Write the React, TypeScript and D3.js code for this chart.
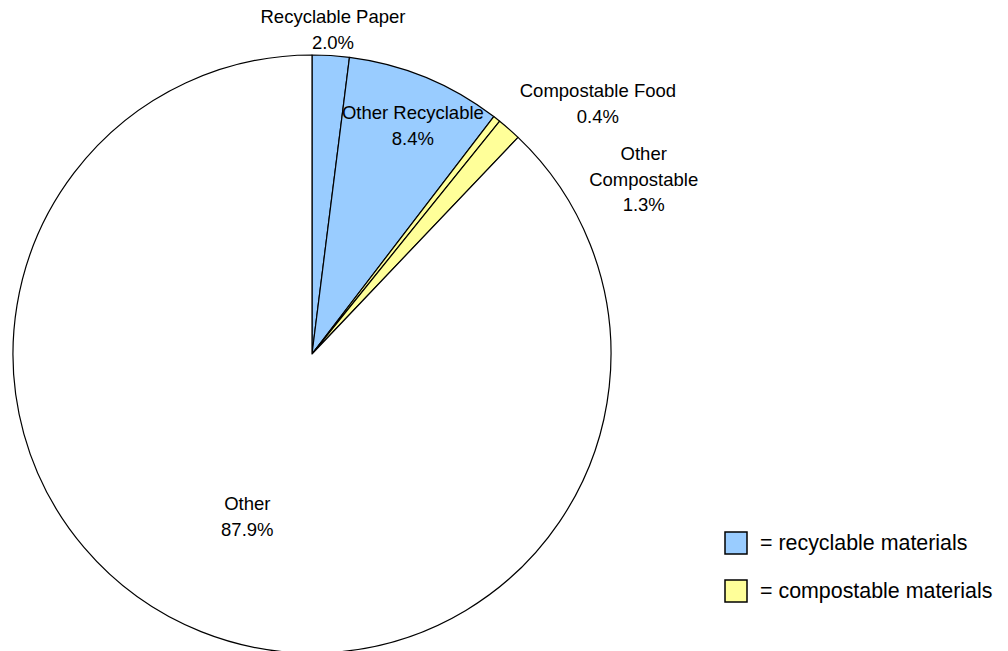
import React from "react";
import * as d3 from "d3";

const categories = ["Recyclable Paper", "Other Recyclable", "Compostable Food", "Other Compostable", "Other"];
const labelLines = [["Recyclable Paper"], ["Other Recyclable"], ["Compostable Food"], ["Other", "Compostable"], ["Other"]];
const values = [2.0, 8.4, 0.4, 1.3, 87.9];
const groups = ["recyclable", "recyclable", "compostable", "compostable", "other"];
const legendItems = ["recyclable", "compostable"];
const legendLabels = ["= recyclable materials", "= compostable materials"];

// label placement (polar: degrees clockwise from top, distance from centre)
const labelPolar = [
  { a: 3.7, r: 325 },
  { a: 23.8, r: 250 },
  { a: 48.8, r: 380 },
  { a: 62.2, r: 375 },
  { a: 201.7, r: 175 },
];

const colors: Record<string, string> = {
  recyclable: "#99CCFF",
  compostable: "#FFFF99",
  other: "#FFFFFF",
};

const W = 1008;
const H = 651;
const cx = 312;
const cy = 354;
const R = 299;

export default function App() {
  const pie = d3.pie<number>().sort(null).value((d) => d).startAngle(0).endAngle(2 * Math.PI);
  const arcs = pie(values);
  const arc = d3.arc<d3.PieArcDatum<number>>().innerRadius(0).outerRadius(R);
  const font = "'Liberation Sans', Arial, sans-serif";
  const lh = 25.5;

  return (
    <div style={{ position: "fixed", left: 0, top: 0 }}>
      <svg width={W} height={H} style={{ display: "block", background: "#fff" }}>
        <g transform={`translate(${cx},${cy})`}>
          {arcs.map((a, i) => (
            <path key={categories[i]} d={arc(a) || ""} fill={colors[groups[i]]} stroke="#000" strokeWidth={1.2} strokeLinejoin="round" />
          ))}
          {arcs.map((a, i) => {
            const p = labelPolar[i];
            const ang = (p.a * Math.PI) / 180;
            const x = p.r * Math.sin(ang);
            const y = -p.r * Math.cos(ang);
            const lines = [...labelLines[i], `${values[i].toFixed(1)}%`];
            const n = lines.length;
            return (
              <text key={"l" + i} x={x} y={y} textAnchor="middle" fontFamily={font} fontSize={18.5} fill="#000">
                {lines.map((t, j) => (
                  <tspan key={j} x={x} y={y + (j - (n - 1) / 2) * lh} dominantBaseline="central">
                    {t}
                  </tspan>
                ))}
              </text>
            );
          })}
        </g>
        <g>
          {legendItems.map((g, i) => (
            <g key={g} transform={`translate(725,${532 + i * 48})`}>
              <rect x={0} y={0} width={22} height={22} fill={colors[g]} stroke="#000" strokeWidth={1.5} />
              <text x={35} y={11} dominantBaseline="central" fontFamily={font} fontSize={21.4} fill="#000">
                {legendLabels[i]}
              </text>
            </g>
          ))}
        </g>
      </svg>
    </div>
  );
}
